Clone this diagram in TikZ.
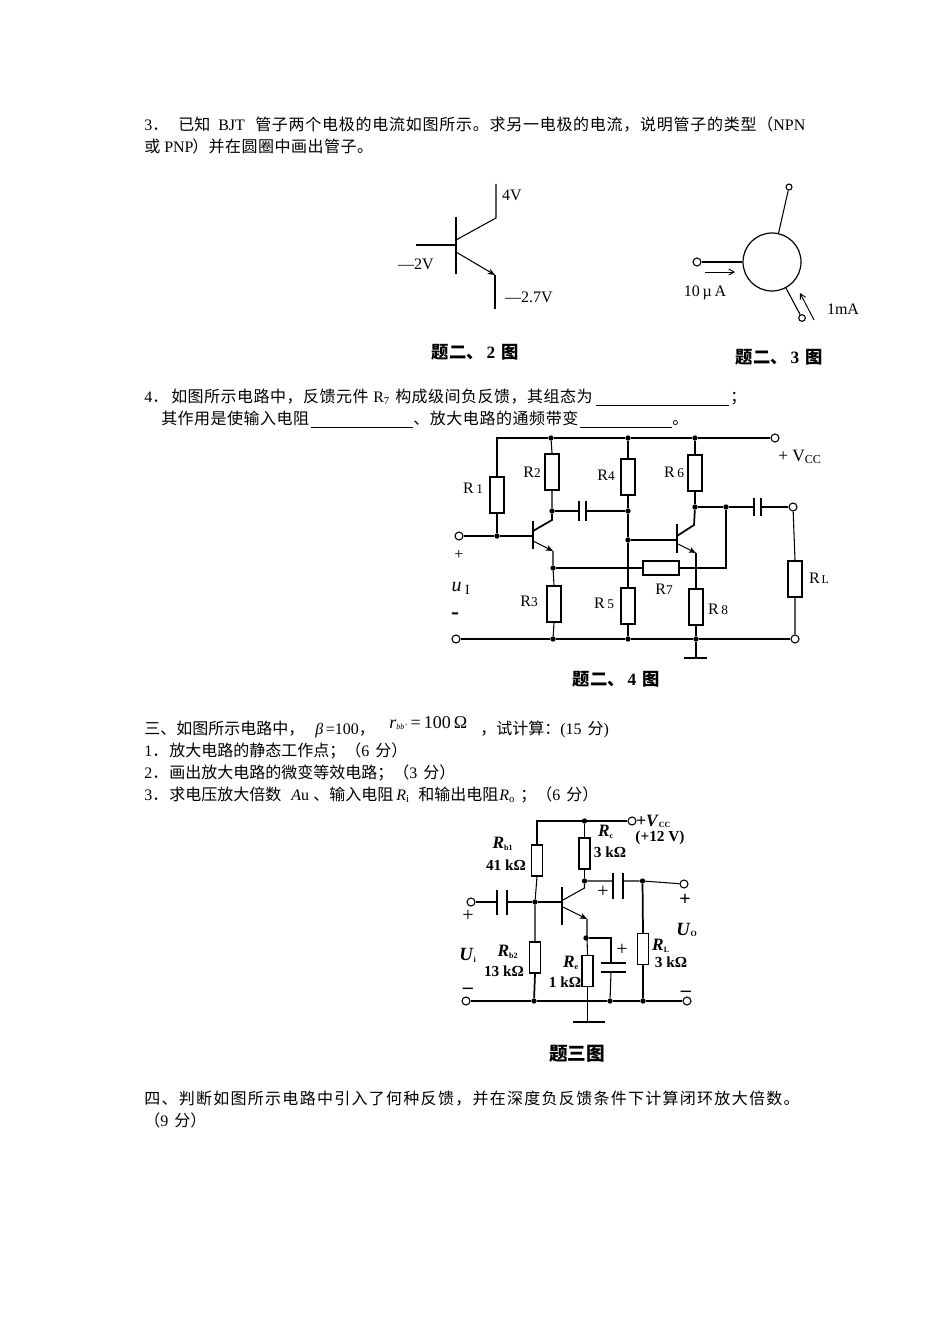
\documentclass[tikz,border=0pt]{standalone}
\usepackage{fontspec}
\setmainfont{Liberation Serif}
\newfontfamily\cjk{Noto Sans CJK SC}
\usetikzlibrary{arrows.meta}
\newcommand\zh[2][0]{{\cjk\addfontfeature{LetterSpace=#1}#2}}
\tikzset{
 x=0.75pt,y=-0.75pt,
 txt/.style={anchor=base west,inner sep=0pt,font=\fontsize{12pt}{14pt}\selectfont},
 lab/.style={inner sep=0pt,font=\fontsize{12pt}{14pt}\selectfont},
 capt/.style={inner sep=0pt,font=\fontsize{13pt}{15pt}\selectfont\bfseries},
 labb/.style={inner sep=0pt,font=\fontsize{11.5pt}{13pt}\selectfont\bfseries},
 sign/.style={inner sep=0pt,font=\fontsize{15pt}{15pt}\selectfont},
 wire/.style={line width=0.8pt},
 thick wire/.style={line width=1.3pt},
 resV/.style={draw,fill=white,line width=1.5pt,minimum width=10.5pt,minimum height=27pt,inner sep=0pt},
 resH/.style={draw,fill=white,line width=1.5pt,minimum width=27pt,minimum height=10pt,inner sep=0pt},
 resT/.style={draw,fill=white,line width=1.2pt,minimum width=8pt,minimum height=23pt,inner sep=0pt},
 dot/.style={circle,fill=black,inner sep=0pt,minimum size=4pt},
 term/.style={circle,draw,fill=white,line width=0.8pt,inner sep=0pt,minimum size=6pt},
 tip/.style={-{Stealth[length=5.5pt,width=4.5pt]}},
 arr/.style={-{Straight Barb[length=4pt,width=4.5pt]},line width=0.7pt},
}
\begin{document}
\begin{tikzpicture}
\useasboundingbox[fill=white] (0,0) rectangle (950,1344);
% ---------- text ----------
\node[txt] (t1a) at (144,131) {3\zh{．}};
\node[txt] (t1b) at (178,131) {\zh{已知}};
\node[txt] (t1c) at (218,131) {BJT};
\node[txt] (t1d) at (255,131) {\zh[4.6]{管子两个电极的电流如图所示。求另一电极的电流，说明管子的类型（}NPN};
\node[txt] (t2a) at (144,153) {\zh{或}};
\node[txt] (t2b) at (164,153) {PNP};
\node[txt] (t2c) at (192,153) {\zh[3]{）并在圆圈中画出管子。}};
\node[txt] (t3a) at (144,402) {4\zh{．}};
\node[txt] (t3b) at (171,402) {\zh[3]{如图所示电路中，反馈元件}};
\node[txt] (t3c) at (373,402) {R\textsubscript{7}};
\node[txt] (t3d) at (395,402) {\zh[3]{构成级间负反馈，其组态为}};
\coordinate (u1a) at (596,405); \coordinate (u1b) at (729,405);
\draw[line width=0.6pt] (u1a)--(u1b);
\node[txt] (t3e) at (730,402) {\zh{；}};
\node[txt] (t4a) at (161,424) {\zh[3]{其作用是使输入电阻}};
\coordinate (u2a) at (311,427); \coordinate (u2b) at (413,427);
\draw[line width=0.6pt] (u2a)--(u2b);
\node[txt] (t4b) at (413,424) {\zh[3.5]{、放大电路的通频带变}};
\coordinate (u3a) at (580,427); \coordinate (u3b) at (672,427);
\draw[line width=0.6pt] (u3a)--(u3b);
\node[txt] (t4c) at (672,424) {\zh{。}};
\node[txt] (t5a) at (144,734) {\zh{三、如图所示电路中，}};
\node[txt] (t5b) at (315,734) {\textit{β}\,=100\zh{，}};
\node[txt,font=\fontsize{13.5pt}{15pt}\selectfont] (t5c) at (389,728) {\textit{r}{\fontsize{8pt}{8pt}\selectfont\textsubscript{\textit{bb'}}}\,=\,100\,Ω};
\node[txt] (t5d) at (480,734) {\zh{，试计算：}(15\hspace{4.5pt}\zh{分})};
\node[txt] (t6a) at (144,756) {1\zh{．}};
\node[txt] (t6b) at (169,756) {\zh{放大电路的静态工作点；（}6\hspace{4.5pt}\zh{分）}};
\node[txt] (t7a) at (144,778) {2\zh{．}};
\node[txt] (t7b) at (169,778) {\zh{画出放大电路的微变等效电路；（}3\hspace{4.5pt}\zh{分）}};
\node[txt] (t8a) at (144,800) {3\zh{．}};
\node[txt] (t8b) at (169,800) {\zh{求电压放大倍数}};
\node[txt] (t8c) at (291,800) {\textit{A}u};
\node[txt] (t8d) at (313,800) {\zh{、输入电阻}};
\node[txt] (t8e) at (396,800) {\textit{R}\textsubscript{i}};
\node[txt] (t8f) at (418,800) {\zh{和输出电阻}};
\node[txt] (t8g) at (499,800) {\textit{R}\textsubscript{o}};
\node[txt] (t8h) at (520,800) {\zh{；（}6\hspace{4.5pt}\zh{分）}};
\node[txt] (t9) at (144,1104) {\zh[8]{四、判断如图所示电路中引入了何种反馈，并在深度负反馈条件下计算闭环放大倍数。}};
\node[txt] (t10) at (144,1126) {\zh{（}9\hspace{4.5pt}\zh{分）}};
% ---------- fig 2 ----------
\coordinate (a1) at (456,217); \coordinate (a2) at (456,274);
\coordinate (ab) at (416,245); \coordinate (ab2) at (456,245);
\coordinate (ac1) at (456,240); \coordinate (ac2) at (496,218); \coordinate (ac3) at (496,184);
\coordinate (ae1) at (456,252); \coordinate (ae2) at (495,275); \coordinate (ae3) at (495,309);
\draw[line width=1.5pt] (a1)--(a2);
\draw[line width=1.5pt] (ab)--(ab2);
\draw[wire] (ac1)--(ac2)--(ac3);
\draw[wire,tip] (ae1)--(ae2);
\draw[wire] (ae2)--(ae3);
\node[lab] (l4v) at (512,195) {4V};
\node[lab] (l2v) at (416,264) {—2V};
\node[lab] (l27) at (529,297) {—2.7V};
\node[capt] (c2) at (475,352) {\zh{题二、}\,2\,\,\zh{图}};
% ---------- fig 3 ----------
\node[circle,draw,line width=0.9pt,minimum size=43.5pt,inner sep=0pt] (Q) at (772,262) {};
\node[term,minimum size=4.5pt] (q1) at (789,187) {};
\node[term] (q2) at (697,262) {};
\node[term,minimum size=5pt] (q3) at (802,318) {};
\draw[wire] (q1)--(Q);
\draw[wire] (q2)--(Q);
\draw[wire] (q3)--(Q);
\coordinate (qa1) at (705,272); \coordinate (qa2) at (735,272);
\coordinate (qb1) at (814,320); \coordinate (qb2) at (800,293);
\draw[arr] (qa1)--(qa2);
\draw[arr] (qb1)--(qb2);
\node[lab] (l10) at (705,293) {10\,µ\,A};
\node[lab] (l1m) at (843,309) {1mA};
\node[capt] (c3) at (779,357) {\zh{题二、}\,3\,\,\zh{图}};
% ---------- fig 4 ----------
\node[resV] (R1) at (497,495) {};
\node[resV] (R2) at (552,472) {};
\node[resV] (R3) at (554,604) {};
\node[resV] (R4) at (628,476.5) {};
\node[resV] (R5) at (628,606) {};
\node[resV] (R6) at (695,473) {};
\node[resH] (R7) at (661,568) {};
\node[resV] (R8) at (696,606.5) {};
\node[resV] (RL) at (795,579) {};
\node[dot] (d1) at (551,438) {};
\node[dot] (d2) at (628,438) {};
\node[dot] (d3) at (695,438) {};
\node[term] (vcc) at (775,438) {};
\coordinate (tl) at (497,438);
\node[term] (in) at (459,536) {};
\node[dot] (d4) at (497,536) {};
\coordinate (b1) at (533,536);
\coordinate (b1t) at (533,521); \coordinate (b1d) at (533,549);
\node[dot] (d5) at (552,511) {};
\coordinate (c1) at (533,531); \coordinate (c1k) at (552,520);
\coordinate (e1) at (533,541); \coordinate (e1k) at (553,551);
\node[dot] (d6) at (553,568) {};
\node[dot] (d7) at (553,639) {};
\node[dot] (d8) at (628,511) {};
\node[dot] (d9) at (628,540) {};
\node[dot] (d10) at (628,639) {};
\node[dot] (d11) at (696,639) {};
\node[term] (gnd0) at (456,639) {};
\node[term] (out0) at (795,639) {};
\node[term] (out) at (793,507) {};
\coordinate (p1a) at (579,511); \coordinate (p1b) at (586,511);
\coordinate (p1at) at (579,501); \coordinate (p1ad) at (579,521);
\coordinate (p1bt) at (586,501); \coordinate (p1bd) at (586,521);
\draw[line width=1.3pt] (p1at)--(p1ad) (p1bt)--(p1bd);
\coordinate (b2) at (677,540);
\coordinate (b2t) at (677,524); \coordinate (b2d) at (677,553);
\coordinate (c2a) at (677,536); \coordinate (c2k) at (694,525);
\coordinate (e2a) at (678,544); \coordinate (e2k) at (696,553);
\node[dot] (d12) at (695,507) {};
\node[dot] (d13) at (726,507) {};
\coordinate (p2a) at (754,507); \coordinate (p2b) at (761,507);
\coordinate (p2at) at (754,498); \coordinate (p2ad) at (754,516);
\coordinate (p2bt) at (761,498); \coordinate (p2bd) at (761,516);
\draw[line width=1.5pt] (p2at)--(p2ad) (p2bt)--(p2bd);
\coordinate (w7) at (726,568);
\coordinate (gg) at (696,658); \coordinate (gl) at (684,658); \coordinate (gr) at (707,658);
\coordinate (rlt) at (795,507);
\draw[wire] (R1.north)--(tl)--(d1)--(d2)--(d3)--(vcc);
\draw[wire] (d4)--(R1.south);
\draw[thick wire] (in)--(d4)--(b1);
\draw[line width=1.6pt] (b1t)--(b1d);
\draw[wire] (d1)--(R2.north) (R2.south)--(d5);
\draw[thick wire] (c1)--(c1k)--(d5);
\draw[wire,tip] (e1)--(e1k);
\draw[wire] (e1k)--(d6)--(R3.north) (R3.south)--(d7);
\draw[wire] (d5)--(p1a) (p1b)--(d8);
\draw[wire] (d2)--(R4.north) (R4.south)--(d8)--(d9)--(R5.north) (R5.south)--(d10);
\draw[wire] (d9)--(b2);
\draw[line width=1.6pt] (b2t)--(b2d);
\draw[thick wire] (c2a)--(c2k)--(d12);
\draw[wire,tip] (e2a)--(e2k);
\draw[wire] (e2k)--(R8.north) (R8.south)--(d11)--(gg);
\draw[line width=1.5pt] (gl)--(gr);
\draw[wire] (d3)--(R6.north) (R6.south)--(d12)--(d13)--(p2a) (p2b)--(out);
\draw[wire] (d6)--(R7.west) (R7.east)--(w7)--(d13);
\draw[wire] (gnd0)--(d7)--(d10)--(d11)--(out0);
\draw[wire] (out)--(RL.north) (RL.south)--(out0);
\node[lab] (lr1) at (473,488) {R\,{\fontsize{10pt}{10pt}\selectfont 1}};
\node[lab] (lr2) at (532,472) {R{\fontsize{10pt}{10pt}\selectfont 2}};
\node[lab] (lr4) at (606,475) {R{\fontsize{10pt}{10pt}\selectfont 4}};
\node[lab] (lr6) at (674,472) {R\,{\fontsize{10pt}{10pt}\selectfont 6}};
\node[lab] (lr3) at (529,601) {R{\fontsize{10pt}{10pt}\selectfont 3}};
\node[lab] (lr5) at (604,603) {R\,{\fontsize{10pt}{10pt}\selectfont 5}};
\node[lab] (lr7) at (664,589) {R{\fontsize{10pt}{10pt}\selectfont 7}};
\node[lab] (lr8) at (718,609) {R\,{\fontsize{10pt}{10pt}\selectfont 8}};
\node[lab] (lrl) at (819,578) {R{\fontsize{9pt}{10pt}\selectfont\,L}};
\node[lab] (lvcc) at (800,457) {\fontsize{13pt}{14pt}\selectfont + V\textsubscript{CC}};
\node[lab] (lp) at (459,555) {+};
\node[lab] (lu) at (461,588) {\fontsize{15pt}{15pt}\selectfont\textit{u}\,\textsubscript{I}};
\node[lab] (lm) at (455,616) {\fontsize{18pt}{18pt}\selectfont\textbf{-}};
\node[capt] (c4) at (616,679) {\zh{题二、}\,4\,\,\zh{图}};
% ---------- fig 5 ----------
\node[resT] (Rb1) at (537,860.5) {};
\node[resT] (Rc) at (584.5,853.5) {};
\node[resT] (Rb2) at (535,957.5) {};
\node[resT] (Re) at (587.5,971) {};
\node[resT] (RLt) at (643,949) {};
\coordinate (t0) at (537,821);
\node[dot] (f1) at (584.5,821) {};
\node[term] (fv) at (632,821) {};
\node[dot] (f2) at (584.5,881) {};
\node[dot] (f3) at (642.5,881) {};
\node[term] (fo) at (684,884) {};
\node[term] (fi) at (471,902) {};
\node[dot] (f4) at (535,902) {};
\coordinate (fb) at (562,902);
\coordinate (fbt) at (562,887); \coordinate (fbd) at (562,925);
\coordinate (fc) at (563,900); \coordinate (fck) at (584.5,888);
\coordinate (fe) at (563,907); \coordinate (fek) at (587,919);
\node[dot] (f5) at (586,938) {};
\coordinate (fcp) at (611,938); \coordinate (fcu) at (611,963); \coordinate (fcl) at (611,972);
\coordinate (fcul) at (601,963); \coordinate (fcur) at (626,963);
\coordinate (fcll) at (601,972); \coordinate (fclr) at (626,972);
\node[dot] (f6) at (610,1001) {};
\node[dot] (f7) at (534,1001) {};
\node[dot] (f8) at (643,1001) {};
\coordinate (f9) at (587.5,1001);
\coordinate (f53) at (587,938);
\node[term] (fg) at (466,1001) {};
\node[term] (fr) at (687,1001) {};
\coordinate (gn) at (587.5,1022); \coordinate (gnl) at (573,1022); \coordinate (gnr) at (605,1022);
\coordinate (cp1) at (497,902); \coordinate (cp2) at (507,902);
\coordinate (cq1) at (613,881); \coordinate (cq2) at (623,881);
\coordinate (cp1t) at (497,890); \coordinate (cp1d) at (497,915);
\coordinate (cp2t) at (507,890); \coordinate (cp2d) at (507,915);
\coordinate (cq1t) at (613,873); \coordinate (cq1d) at (613,899);
\coordinate (cq2t) at (623,873); \coordinate (cq2d) at (623,899);
\draw[wire] (Rb1.north)--(t0)--(f1)--(fv);
\draw[thick wire] (f1)--(Rc.north);
\draw[thick wire] (Rc.south)--(f2);
\draw[wire] (f2)--(cq1) (cq2)--(f3)--(fo);
\draw[thick wire] (fi)--(cp1) (cp2)--(f4)--(fb);
\draw[line width=1.4pt] (cp1t)--(cp1d) (cp2t)--(cp2d);
\draw[line width=1.4pt] (cq1t)--(cq1d) (cq2t)--(cq2d);
\draw[wire] (Rb1.south)--(f4)--(Rb2.north);
\draw[thick wire] (Rb2.south)--(f7);
\draw[line width=1.6pt] (fbt)--(fbd);
\draw[wire] (fc)--(fck)--(f2);
\draw[wire,tip] (fe)--(fek);
\draw[wire] (fek)--(f53)--(Re.north);
\draw[wire] (f5)--(fcp)--(fcu);
\draw[line width=1pt] (fcul)--(fcur);
\draw[line width=1.7pt] (fcll)--(fclr);
\draw[wire] (fcl)--(f6);
\draw[wire] (Re.south)--(gn);
\draw[line width=1.7pt] (gnl)--(gnr);
\draw[thick wire] (f3)--(RLt.north) (RLt.south)--(f8);
\draw[thick wire] (fg)--(f7);
\draw[wire] (f7)--(f9)--(f6)--(f8)--(fr);
\node[labb] (m1) at (503,844) {\fontsize{13pt}{13pt}\selectfont\textit{R}{\fontsize{8pt}{8pt}\selectfont\textsubscript{b1}}};
\node[labb] (m2) at (506,865) {41 kΩ};
\node[labb] (m3) at (606,832) {\fontsize{13pt}{13pt}\selectfont\textit{R}{\fontsize{8pt}{8pt}\selectfont\textsubscript{c}}};
\node[labb] (m4) at (610,852) {3 kΩ};
\node[labb,anchor=base west] (m5) at (636,826) {\fontsize{13pt}{13pt}\selectfont +\textit{V}{\fontsize{9pt}{8pt}\selectfont\textsubscript{CC}}};
\node[labb] (m6) at (660,838) {(+12 V)};
\node[sign] (m7) at (603,892) {+};
\node[sign] (m8) at (468,916) {+};
\node[sign] (m9) at (685,900) {\textbf{+}};
\node[labb] (m10) at (687,930) {\fontsize{14pt}{14pt}\selectfont\textit{U}{\fontsize{8pt}{8pt}\selectfont\textsubscript{O}}};
\node[labb] (m11) at (661,946) {\fontsize{13pt}{13pt}\selectfont\textit{R}{\fontsize{8pt}{8pt}\selectfont\textsubscript{L}}};
\node[labb] (m12) at (671,962) {3 kΩ};
\node[labb] (m13) at (468,955) {\fontsize{14pt}{14pt}\selectfont\textit{U}{\fontsize{8pt}{8pt}\selectfont\textsubscript{i}}};
\node[labb] (m14) at (508,952) {\fontsize{13pt}{13pt}\selectfont\textit{R}{\fontsize{8pt}{8pt}\selectfont\textsubscript{b2}}};
\node[labb] (m15) at (504,971) {13 kΩ};
\node[labb] (m16) at (571,963) {\fontsize{13pt}{13pt}\selectfont\textit{R}{\fontsize{8pt}{8pt}\selectfont\textsubscript{e}}};
\node[labb] (m17) at (565,982) {1 kΩ};
\node[sign] (m18) at (622,950) {+};
\node[sign] (m19) at (468,991) {\textbf{–}};
\node[sign] (m20) at (686,994) {\textbf{–}};
\node[capt,font=\fontsize{14pt}{15pt}\selectfont\bfseries] (c5) at (577,1054) {\zh{题三图}};
\end{tikzpicture}
\end{document}
